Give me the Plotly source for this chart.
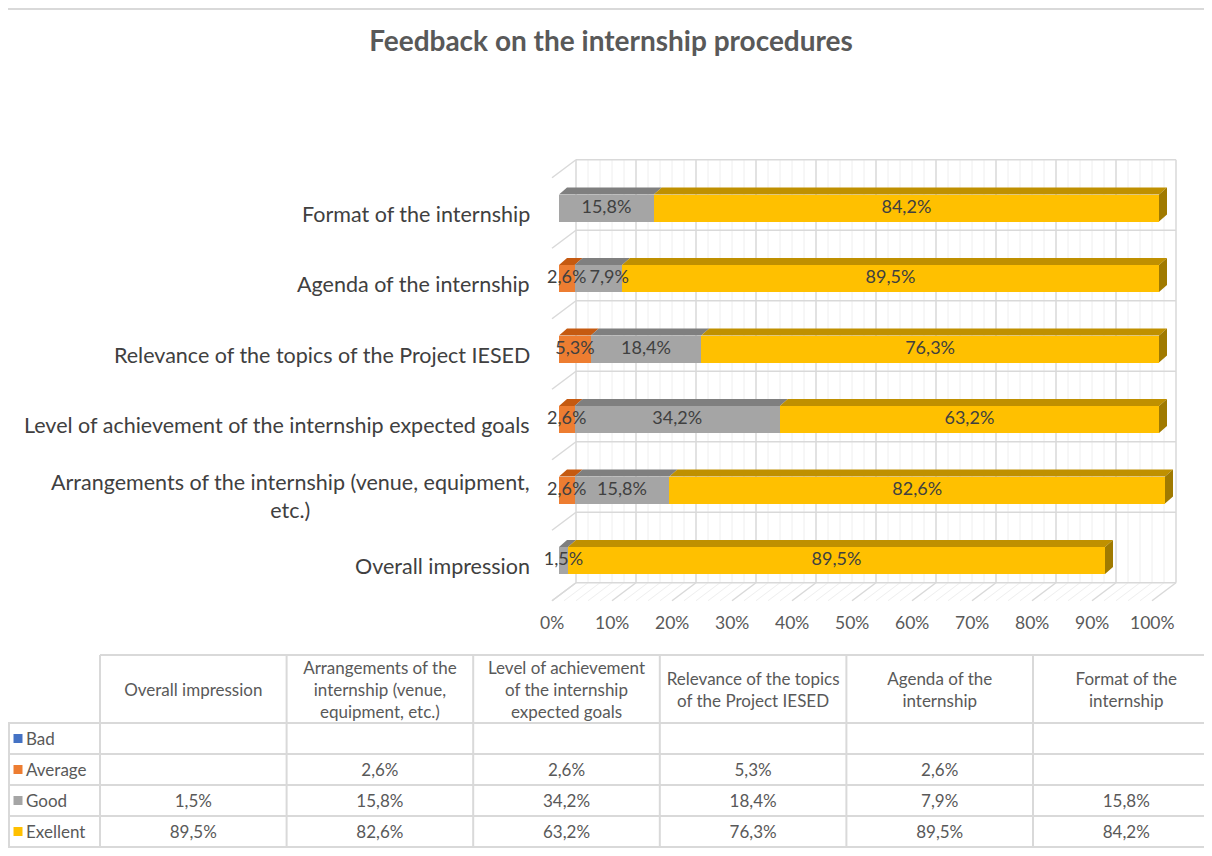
import plotly.graph_objects as go

# ---------------- data ----------------
categories = ["Overall impression",
              "Arrangements of the internship (venue, equipment, etc.)",
              "Level of achievement of the internship expected goals",
              "Relevance of the topics of the Project IESED",
              "Agenda of the internship",
              "Format of the internship"]
axis_labels = ["Overall impression",
               "Arrangements of the internship (venue, equipment,<br>etc.)",
               "Level of achievement of the internship expected goals",
               "Relevance of the topics of the Project IESED",
               "Agenda of the internship",
               "Format of the internship"]
table_headers = ["Overall impression",
                 "Arrangements of the<br>internship (venue,<br>equipment, etc.)",
                 "Level of achievement<br>of the internship<br>expected goals",
                 "Relevance of the topics<br>of the Project IESED",
                 "Agenda of the<br>internship",
                 "Format of the<br>internship"]
series_names = ["Bad", "Average", "Good", "Exellent"]
bad = [None, None, None, None, None, None]
average = [None, 2.6, 2.6, 5.3, 2.6, None]
good = [1.5, 15.8, 34.2, 18.4, 7.9, 15.8]
excellent = [89.5, 82.6, 63.2, 76.3, 89.5, 84.2]
x_ticks = [0, 10, 20, 30, 40, 50, 60, 70, 80, 90, 100]

# ---------------- styling ----------------
OX, OY = 8, 8                 # page body margin of the html page
W, H = 1212 - OX, 856 - OY    # figure size
FONT = "Lato"
TXT = "#595959"
front = {"Bad": "#4472C4", "Average": "#ED7D31", "Good": "#A5A5A5", "Exellent": "#FFC000"}
topc = {"Bad": "#2F5597", "Average": "#C55A11", "Good": "#7F7F7F", "Exellent": "#BF9000"}
sidec = {"Bad": "#203864", "Average": "#9E480E", "Good": "#6B6B6B", "Exellent": "#A07A00"}
series_vals = [bad, average, good, excellent]

def fmt(v):
    return "" if v is None else f"{v:.1f}%".replace(".", ",")

def px(x):
    return (x - OX) / W

def py(y):
    return 1 - (y - OY) / H

# 3D geometry in data units (x: 6 px per %, y: 70.5 px per category)
XPX, YPX = 6.0, 70.5
BAR_W = 0.383
HH = BAR_W / 2
DX, DY = 8 / XPX, 7 / YPX
BX, BY = 17 / XPX, 13 / YPX     # back wall offset
FX, FY = -7 / XPX, -5 / YPX     # front floor offset
CHAR_W = 9.6 / XPX              # approx. label character width (in % units)
ypos = list(range(len(categories)))
ncat = len(categories)

fig = go.Figure()

# front faces (stacked bars)
for name, vals in zip(series_names, series_vals):
    fig.add_trace(go.Bar(y=ypos, x=vals, orientation="h", width=BAR_W,
                         marker=dict(color=front[name], line=dict(width=0)),
                         name=name, showlegend=False, hoverinfo="skip"))

# top and side faces computed from the stacked data
cum = [0.0] * ncat
last_end = [None] * ncat
last_name = [None] * ncat
last_label_right = [None] * ncat
label_x, label_y, label_t = [], [], []
for name, vals in zip(series_names, series_vals):
    xs, ys = [], []
    for i, v in enumerate(vals):
        if v is None:
            continue
        x0, x1 = cum[i], cum[i] + v
        yc = ypos[i]
        xs += [x0, x1, x1 + DX, x0 + DX, x0, None]
        ys += [yc + HH, yc + HH, yc + HH + DY, yc + HH + DY, yc + HH, None]
        t = fmt(v)
        half = len(t) * CHAR_W / 2
        cxl = (x0 + x1) / 2
        if last_label_right[i] is not None and cxl - half < last_label_right[i]:
            cxl = last_label_right[i] + 4 / XPX + half   # nudge to avoid overlap
        last_label_right[i] = cxl + half
        label_x.append(cxl)
        label_y.append(yc)
        label_t.append(t)
        cum[i] = x1
        last_end[i] = x1
        last_name[i] = name
    if xs:
        fig.add_trace(go.Scatter(x=xs, y=ys, mode="lines", fill="toself",
                                 fillcolor=topc[name], line=dict(width=0, color=topc[name]),
                                 showlegend=False, hoverinfo="skip"))
for name in series_names:
    xs, ys = [], []
    for i in range(ncat):
        if last_name[i] != name:
            continue
        x1, yc = last_end[i], ypos[i]
        xs += [x1, x1 + DX, x1 + DX, x1, x1, None]
        ys += [yc - HH, yc - HH + DY, yc + HH + DY, yc + HH, yc - HH, None]
    if xs:
        fig.add_trace(go.Scatter(x=xs, y=ys, mode="lines", fill="toself",
                                 fillcolor=sidec[name], line=dict(width=0, color=sidec[name]),
                                 showlegend=False, hoverinfo="skip"))

# data labels
fig.add_trace(go.Scatter(x=label_x, y=label_y, mode="text", text=label_t,
                         textfont=dict(family=FONT, size=18, color="#404040"),
                         showlegend=False, hoverinfo="skip"))

# ---------------- walls / gridlines ----------------
shapes = []
GRID = "#D9D9D9"
MINOR = "#EEEEEE"
y_lo, y_hi = -0.5, ncat - 0.5
for v in range(0, 101, 2):
    major = v % 10 == 0
    c = GRID if major else MINOR
    shapes.append(dict(type="line", xref="x", yref="y", layer="below",
                       x0=v + BX, x1=v + BX, y0=y_lo + BY, y1=y_hi + BY,
                       line=dict(color=c, width=1.5 if major else 1)))
    shapes.append(dict(type="line", xref="x", yref="y", layer="below",
                       x0=v + FX, x1=v + BX, y0=y_lo + FY, y1=y_lo + BY,
                       line=dict(color=c, width=1.5 if major else 1)))
for k in range(ncat + 1):
    yk = y_lo + k
    shapes.append(dict(type="line", xref="x", yref="y", layer="below",
                       x0=BX, x1=100 + BX, y0=yk + BY, y1=yk + BY,
                       line=dict(color=GRID, width=1.5)))
    shapes.append(dict(type="line", xref="x", yref="y", layer="below",
                       x0=FX, x1=BX, y0=yk + FY, y1=yk + BY,
                       line=dict(color=GRID, width=1.5)))

# chart border (top edge)
shapes.append(dict(type="line", xref="paper", yref="paper", layer="below",
                   x0=0, x1=1, y0=py(9), y1=py(9),
                   line=dict(color="#D9D9D9", width=2)))

annotations = []
# category labels
for i, lab in enumerate(axis_labels):
    annotations.append(dict(x=px(532), xref="paper", y=ypos[i] - 0.085, yref="y",
                            text=lab, showarrow=False, xanchor="right", yanchor="middle",
                            align="center", font=dict(family=FONT, size=21.5, color="#404040")))
# x tick labels (front floor edge)
for t in x_ticks:
    annotations.append(dict(x=t + FX, xref="x", y=py(622), yref="paper",
                            text=f"{t}%", showarrow=False, xanchor="center", yanchor="middle",
                            font=dict(family=FONT, size=17.5, color=TXT)))

# ---------------- data table (on its own axes: column index x row index) ----------------
COLW, ROWH, HEADH, LABW = 186.6, 31.0, 68.0, 92.0
t_left = -0.5 - LABW / COLW                 # left edge of the row-label column
t_right = ncat - 0.5 + (1212 - (100 + ncat * COLW)) / COLW
h_top = -0.5 - HEADH / ROWH                 # top of the header row
h_mid = -0.5 - HEADH / ROWH / 2 + 3 / ROWH
nrow = len(series_names)
t_bottom = nrow - 0.5 + (856 - (723 + nrow * ROWH)) / ROWH
t_top = -0.5 - (723 - 640) / ROWH
TY = 2 / ROWH                               # small downward text nudge

cx, cy, ct = [], [], []
for r, vals in enumerate(series_vals):
    for j, v in enumerate(vals):
        if v is not None:
            cx.append(j)
            cy.append(r + TY)
            ct.append(fmt(v))
fig.add_trace(go.Scatter(x=cx, y=cy, text=ct, mode="text", xaxis="x2", yaxis="y2",
                         textfont=dict(family=FONT, size=17, color=TXT),
                         showlegend=False, hoverinfo="skip"))
fig.add_trace(go.Scatter(x=list(range(ncat)), y=[h_mid] * ncat, text=table_headers,
                         mode="text", xaxis="x2", yaxis="y2",
                         textfont=dict(family=FONT, size=17, color=TXT),
                         showlegend=False, hoverinfo="skip"))
# legend keys + series names in the row-label column
fig.add_trace(go.Scatter(x=[t_left + 10 / COLW] * nrow, y=list(range(nrow)),
                         mode="markers", xaxis="x2", yaxis="y2",
                         marker=dict(symbol="square", size=9,
                                     color=[front[n] for n in series_names]),
                         showlegend=False, hoverinfo="skip"))
fig.add_trace(go.Scatter(x=[t_left + 18 / COLW] * nrow, y=[r + TY for r in range(nrow)],
                         text=series_names, mode="text", textposition="middle right",
                         xaxis="x2", yaxis="y2",
                         textfont=dict(family=FONT, size=17, color=TXT),
                         showlegend=False, hoverinfo="skip"))

# table borders
TL = dict(color=GRID, width=2)
shapes.append(dict(type="line", xref="x2", yref="y2", x0=-0.5, x1=t_right + 1,
                   y0=h_top, y1=h_top, line=TL))
for r in range(nrow + 1):
    shapes.append(dict(type="line", xref="x2", yref="y2", x0=t_left, x1=t_right + 1,
                       y0=r - 0.5, y1=r - 0.5, line=TL))
shapes.append(dict(type="line", xref="x2", yref="y2", x0=t_left + 1 / COLW, x1=t_left + 1 / COLW,
                   y0=-0.5, y1=nrow - 0.5, line=TL))
for j in range(ncat):
    shapes.append(dict(type="line", xref="x2", yref="y2", x0=j - 0.5, x1=j - 0.5,
                       y0=h_top, y1=nrow - 0.5, line=TL))

fig.update_layout(
    width=W, height=H, autosize=False,
    margin=dict(l=0, r=0, t=0, b=0),
    paper_bgcolor="white", plot_bgcolor="rgba(0,0,0,0)",
    barmode="stack", bargap=0,
    title=dict(text="<b>Feedback on the internship procedures</b>", x=px(611), xanchor="center",
               y=py(41), yanchor="middle", font=dict(family=FONT, size=28, color=TXT)),
    xaxis=dict(domain=[px(540), px(1190)], range=[-19 / XPX, 631 / XPX],
               showgrid=False, zeroline=False, showticklabels=False, fixedrange=True),
    yaxis=dict(domain=[py(610), py(150)], range=[5 - 402 / YPX, 5 + 58 / YPX],
               showgrid=False, zeroline=False, showticklabels=False, fixedrange=True),
    xaxis2=dict(domain=[0, 1], range=[t_left, t_right], anchor="y2",
                showgrid=False, zeroline=False, showticklabels=False, fixedrange=True),
    yaxis2=dict(domain=[0, py(640)], range=[t_bottom, t_top], anchor="x2",
                showgrid=False, zeroline=False, showticklabels=False, fixedrange=True),
    shapes=shapes, annotations=annotations,
)

fig.write_html("out.html")
